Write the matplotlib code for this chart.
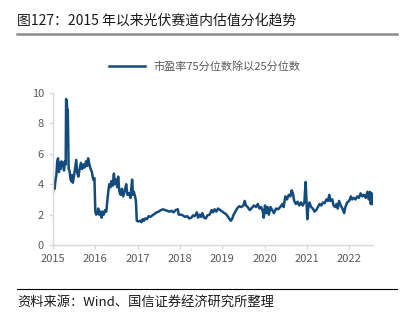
import matplotlib.pyplot as plt

plt.rcParams['font.family'] = ['Noto Sans CJK SC', 'DejaVu Sans']

# decimal year, ratio of PE 75th / 25th percentile
years = [
    2015.00, 2015.02, 2015.04, 2015.06, 2015.08, 2015.10, 2015.12, 2015.14, 2015.16, 2015.18,
    2015.20, 2015.22, 2015.24, 2015.26, 2015.28, 2015.30, 2015.31, 2015.33, 2015.34, 2015.35,
    2015.37, 2015.39, 2015.41, 2015.43, 2015.45, 2015.47, 2015.50, 2015.52, 2015.55, 2015.57,
    2015.60, 2015.63, 2015.66, 2015.69, 2015.72, 2015.75, 2015.78, 2015.81, 2015.83, 2015.86,
    2015.89, 2015.92, 2015.95, 2015.98, 2016.00, 2016.02, 2016.05, 2016.07, 2016.09, 2016.12,
    2016.15, 2016.17, 2016.20, 2016.23, 2016.26, 2016.28, 2016.31, 2016.33, 2016.36, 2016.38,
    2016.41, 2016.44, 2016.46, 2016.49, 2016.52, 2016.54, 2016.57, 2016.60, 2016.63, 2016.66,
    2016.70, 2016.73, 2016.76, 2016.80, 2016.83, 2016.87, 2016.89, 2016.91, 2016.94, 2016.96,
    2016.98, 2017.02, 2017.06, 2017.09, 2017.12, 2017.15, 2017.18, 2017.22, 2017.26, 2017.30,
    2017.35, 2017.40, 2017.45, 2017.50, 2017.55, 2017.60, 2017.65, 2017.70, 2017.75, 2017.80,
    2017.85, 2017.90, 2017.95, 2017.97, 2018.02, 2018.07, 2018.12, 2018.17, 2018.22, 2018.27,
    2018.31, 2018.35, 2018.40, 2018.43, 2018.47, 2018.50, 2018.53, 2018.57, 2018.61, 2018.65,
    2018.70, 2018.75, 2018.78, 2018.82, 2018.86, 2018.90, 2018.95, 2019.00, 2019.05, 2019.10,
    2019.15, 2019.20, 2019.23, 2019.27, 2019.31, 2019.35, 2019.40, 2019.45, 2019.50, 2019.53,
    2019.56, 2019.60, 2019.65, 2019.70, 2019.75, 2019.80, 2019.84, 2019.88, 2019.92, 2019.96,
    2019.98, 2020.01, 2020.04, 2020.07, 2020.10, 2020.14, 2020.18, 2020.22, 2020.27, 2020.32,
    2020.37, 2020.42, 2020.45, 2020.49, 2020.53, 2020.57, 2020.61, 2020.64, 2020.67, 2020.70,
    2020.74, 2020.78, 2020.82, 2020.86, 2020.90, 2020.94, 2020.97, 2020.99, 2021.01, 2021.03,
    2021.06, 2021.10, 2021.14, 2021.18, 2021.22, 2021.26, 2021.30, 2021.34, 2021.38, 2021.42,
    2021.46, 2021.50, 2021.53, 2021.56, 2021.60, 2021.63, 2021.67, 2021.70, 2021.73, 2021.76,
    2021.80, 2021.84, 2021.88, 2021.91, 2021.95, 2022.00, 2022.04, 2022.07, 2022.11, 2022.15,
    2022.19, 2022.23, 2022.27, 2022.31, 2022.35, 2022.39, 2022.43, 2022.46, 2022.49, 2022.51,
    2022.53, 2022.55,
]
ratio = [
    3.5, 4.0, 3.7, 4.3, 4.6, 5.5, 5.7, 4.8, 5.4, 5.0,
    5.5, 5.2, 5.4, 4.9, 5.5, 5.3, 9.6, 9.3, 8.4, 8.9,
    5.0, 4.9, 4.4, 4.2, 4.6, 4.1, 4.6, 5.0, 5.6, 4.8,
    4.5, 5.0, 5.4, 5.0, 5.3, 5.1, 5.5, 5.2, 5.7, 5.3,
    5.0, 4.8, 4.3, 4.4, 2.2, 2.0, 2.1, 2.4, 2.0, 2.2,
    1.8, 2.2, 2.0, 2.3, 2.2, 2.8, 3.6, 4.0, 3.8, 4.2,
    3.9, 4.7, 4.0, 4.3, 3.8, 4.5, 3.5, 3.3, 3.7, 3.2,
    3.6, 4.0, 3.3, 3.4, 3.1, 4.3, 3.3, 3.5, 3.2, 2.9,
    1.6, 1.55, 1.6, 1.5, 1.7, 1.6, 1.75, 1.7, 1.9, 1.85,
    1.95, 2.05, 2.15, 2.2, 2.3, 2.35, 2.3, 2.25, 2.2, 2.25,
    2.15, 2.3, 2.35, 2.0, 2.0, 1.95, 1.85, 1.9, 1.75, 1.8,
    1.95, 1.9, 2.15, 1.8, 2.0, 1.85, 2.1, 1.8, 1.75, 1.95,
    2.0, 2.3, 2.15, 2.35, 2.2, 2.4, 2.3, 2.2, 2.1, 2.0,
    1.8, 1.6, 1.7, 2.0, 2.2, 2.4, 2.55, 2.5, 2.6, 2.9,
    2.6, 2.5, 2.3, 2.45, 2.6, 2.5, 2.7, 2.4, 2.5, 2.2,
    1.8, 2.6, 2.1, 2.5, 2.0, 2.5, 2.3, 2.1, 2.4, 2.35,
    2.5, 2.7, 2.5, 3.2, 3.0, 3.3, 3.2, 3.6, 3.4, 2.9,
    2.7, 2.85, 2.6, 2.8, 2.6, 2.8, 4.15, 3.0, 1.7, 2.4,
    2.8, 2.5, 2.4, 2.2, 2.3, 2.5, 2.7, 2.6, 2.8, 2.75,
    3.0, 2.9, 3.3, 2.9, 3.0, 2.6, 2.5, 2.7, 2.4, 2.9,
    2.6, 2.4, 2.1, 2.5, 2.8, 2.9, 3.2, 3.0, 3.1, 3.0,
    3.2, 3.1, 3.4, 3.2, 3.3, 3.1, 3.5, 3.0, 3.5, 2.7,
    3.4, 2.7,
]
xticks = [2015, 2016, 2017, 2018, 2019, 2020, 2021, 2022]
yticks = [0, 2, 4, 6, 8, 10]

title = '图127：2015 年以来光伏赛道内估值分化趋势'
source = '资料来源：Wind、国信证券经济研究所整理'
series_name = '市盈率75分位数除以25分位数'

fig = plt.figure(figsize=(4.06, 3.25), dpi=100)
ax = fig.add_axes([0.1305, 0.246, 0.788, 0.468])

ax.plot(years, ratio, color='#134b7c', lw=1.8, label=series_name)

ax.set_xlim(2015, 2022.56)
ax.set_ylim(0, 10)
ax.set_xticks(xticks)
ax.set_xticklabels([str(t) for t in xticks])
ax.set_yticks(yticks)

for s in ['top', 'right']:
    ax.spines[s].set_visible(False)
for s in ['left', 'bottom']:
    ax.spines[s].set_color('#d9d9d9')
    ax.spines[s].set_linewidth(1)
ax.tick_params(colors='#d9d9d9', labelcolor='#595959', labelsize=8, length=3, width=1)

ax.legend(loc='center', bbox_to_anchor=(0.505, 0.794), bbox_transform=fig.transFigure,
          frameon=False, fontsize=8, handlelength=3.2, labelcolor='#595959')

fig.text(0.042, 0.938, title, fontsize=10, va='center', ha='left', color='#1a1a1a')
fig.add_artist(plt.Line2D([0.042, 0.978], [0.895, 0.895], color='#8c8c8c', lw=1.8))
fig.add_artist(plt.Line2D([0.042, 0.978], [0.111, 0.111], color='#000000', lw=0.8))
fig.text(0.042, 0.071, source, fontsize=9.5, va='center', ha='left', color='#1a1a1a')

fig.savefig('out.png', dpi=100)
